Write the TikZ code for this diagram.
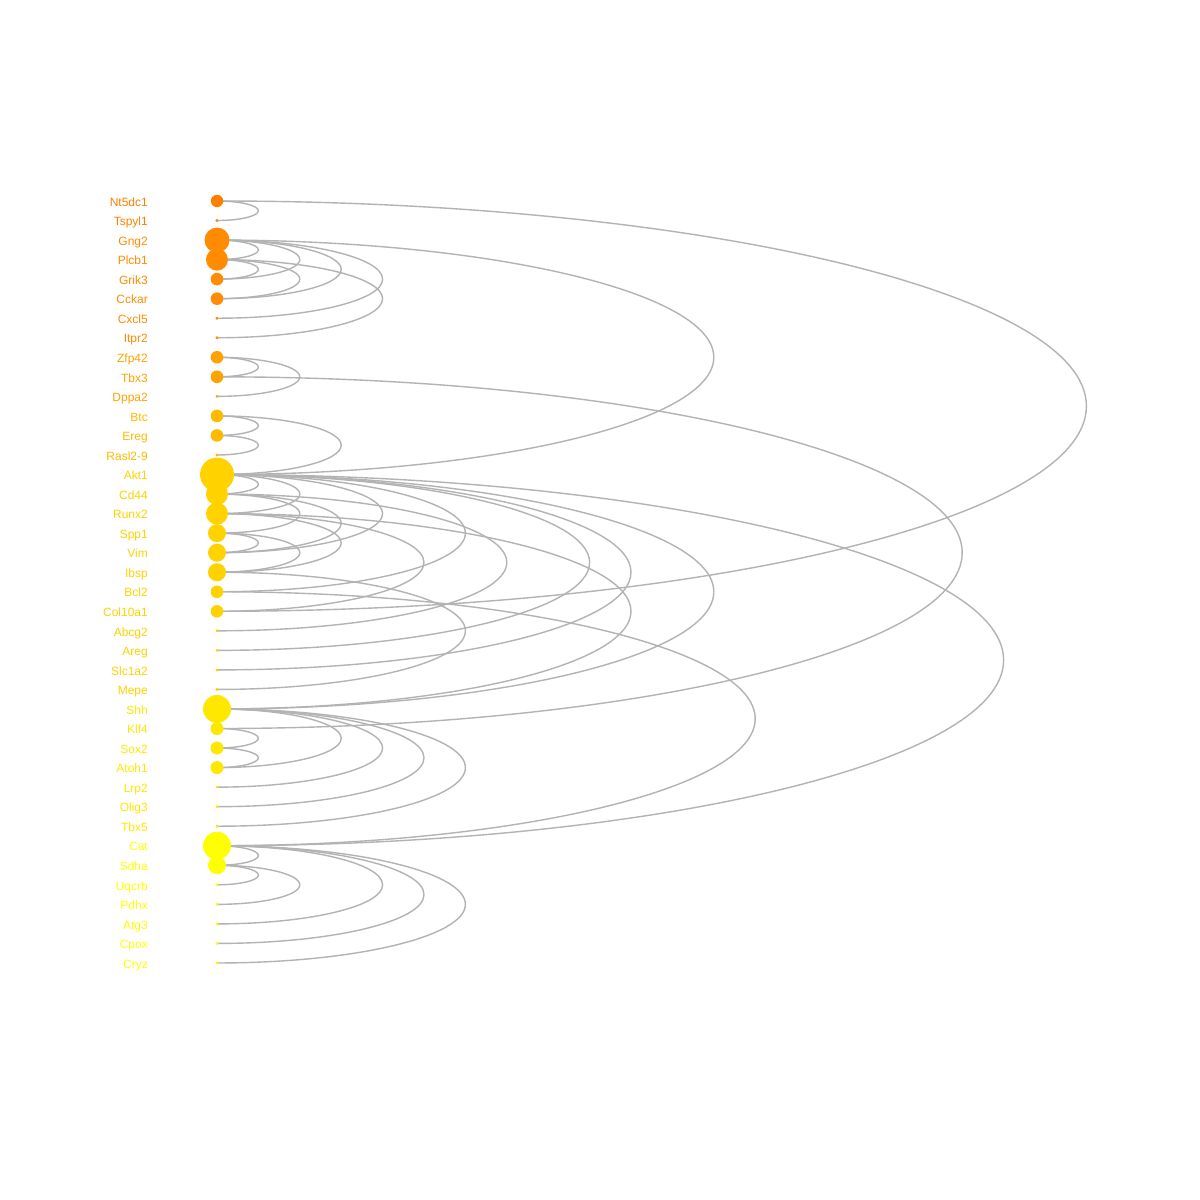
\documentclass[tikz,border=0pt]{standalone}
\usepackage{fontspec}
\setmainfont{Liberation Sans}
\definecolor{gA}{RGB}{255,127,0}
\definecolor{gB}{RGB}{255,140,0}
\definecolor{gC}{RGB}{255,162,0}
\definecolor{gD}{RGB}{255,186,0}
\definecolor{gE}{RGB}{255,210,0}
\definecolor{gF}{RGB}{255,232,0}
\definecolor{gG}{RGB}{255,255,0}
\definecolor{edgegray}{RGB}{179,179,179}
\begin{document}
\begin{tikzpicture}[x=1pt,y=1pt,
  arcline/.style={draw=edgegray, line width=1.4pt},
  dot/.style={circle, inner sep=0pt, draw=none},
  lbl/.style={anchor=base east, inner sep=0pt, font=\fontsize{12}{14}\selectfont}]
\useasboundingbox (0,0) rectangle (1200,1200);
\fill[white] (0,0) rectangle (1200,1200);
% positions
\foreach \k in {0,...,39} {
  \coordinate (p\k) at (217, {999-19.538*\k});
}
% arcs
\foreach \i/\j in {0/1, 0/21,
  2/3, 2/4, 2/5, 2/6, 2/14,
  3/4, 3/5, 3/7,
  8/9, 8/10, 9/27,
  11/12, 12/13, 11/14,
  14/15, 14/16, 14/18, 14/20, 14/23, 14/24, 14/26, 14/33,
  15/17, 15/18, 15/22,
  16/19, 16/21, 16/26,
  17/18, 17/19,
  19/25,
  20/33,
  26/29, 26/30, 26/31, 26/32,
  27/28, 28/29,
  33/34, 33/37, 33/38, 33/39,
  34/35, 34/36} {
  \pgfmathsetmacro\dd{\j-\i}
  \draw[arcline] (p\i) arc[start angle=90, end angle=-90, x radius={41.4*\dd}, y radius={9.769*\dd}];
}
% nodes and labels
\foreach \k/\lab/\col/\r in {
  0/Nt5dc1/gA/6.2, 1/Tspyl1/gA/1.6,
  2/Gng2/gB/12.5, 3/Plcb1/gB/11, 4/Grik3/gB/6.3, 5/Cckar/gB/6.3, 6/Cxcl5/gB/1.6, 7/Itpr2/gB/1.6,
  8/Zfp42/gC/6.3, 9/Tbx3/gC/6.3, 10/Dppa2/gC/1.6,
  11/Btc/gD/6.3, 12/Ereg/gD/6.3, 13/Rasl2-9/gD/1.6,
  14/Akt1/gE/17, 15/Cd44/gE/11, 16/Runx2/gE/11, 17/Spp1/gE/9, 18/Vim/gE/9, 19/Ibsp/gE/9,
  20/Bcl2/gE/6.3, 21/Col10a1/gE/6.3, 22/Abcg2/gE/1.6, 23/Areg/gE/1.6, 24/Slc1a2/gE/1.6, 25/Mepe/gE/1.6,
  26/Shh/gF/14, 27/Klf4/gF/6.5, 28/Sox2/gF/6.5, 29/Atoh1/gF/6.5, 30/Lrp2/gF/1.6, 31/Olig3/gF/1.6, 32/Tbx5/gF/1.6,
  33/Cat/gG/14, 34/Sdha/gG/9, 35/Uqcrb/gG/1.6, 36/Pdhx/gG/1.6, 37/Atg3/gG/1.6, 38/Cpox/gG/1.6, 39/Cryz/gG/1.6} {
  \node[dot, fill=\col, minimum size={2*\r}] (n\k) at (p\k) {};
  \node[lbl, text=\col, xshift=-69pt, yshift=-5.2pt] (l\k) at (p\k) {\lab};
}
\end{tikzpicture}
\end{document}
